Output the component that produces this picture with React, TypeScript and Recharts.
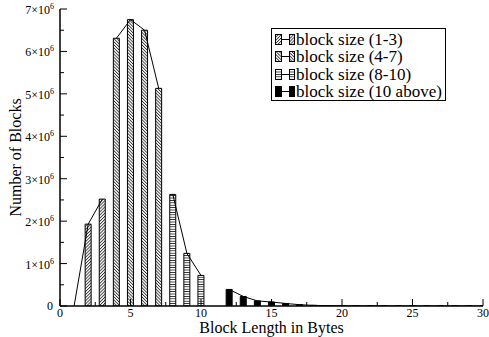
import React from 'react';
import { ComposedChart, Bar, Line, XAxis, YAxis, Cell, Legend } from 'recharts';

const smallLengths = [1, 2, 3];
const smallBlocks = [0, 1930000, 2520000];
const mediumLengths = [4, 5, 6, 7];
const mediumBlocks = [6310000, 6750000, 6500000, 5130000];
const largeLengths = [8, 9, 10];
const largeBlocks = [2630000, 1240000, 720000];
const hugeLengths = [12, 13, 14, 15, 16, 17, 18, 19, 20, 21, 22, 23, 24, 25, 26, 27, 28, 29, 30];
const hugeBlocks = [390000, 225000, 120000, 94000, 60000, 30000, 15000, 9000, 6000, 4000, 3000, 2000, 1500, 1000, 800, 600, 400, 300, 200];

const seriesNames = ['block size (1-3)', 'block size (4-7)', 'block size (8-10)', 'block size (10 above)'];
const xTicks = [0, 2.5, 5, 7.5, 10, 12.5, 15, 17.5, 20, 22.5, 25, 27.5, 30];
const yTicks = [0, 500000, 1000000, 1500000, 2000000, 2500000, 3000000, 3500000, 4000000, 4500000, 5000000, 5500000, 6000000, 6500000, 7000000];

const FONT = '"Liberation Serif", "Times New Roman", serif';

const groups = [
  { key: 'g1', lengths: smallLengths, blocks: smallBlocks, fill: 'url(#hatchUp)' },
  { key: 'g2', lengths: mediumLengths, blocks: mediumBlocks, fill: 'url(#hatchDown)' },
  { key: 'g3', lengths: largeLengths, blocks: largeBlocks, fill: 'url(#hatchFlat)' },
  { key: 'g4', lengths: hugeLengths, blocks: hugeBlocks, fill: '#000' },
];

const rows = groups
  .flatMap(g => g.lengths.map((len, i) => ({ len, blocks: g.blocks[i], fill: g.fill, [g.key]: g.blocks[i] })))
  .sort((a, b) => a.len - b.len);

const isMajorX = (v: number) => v % 5 === 0;
const isMajorY = (v: number) => v % 1000000 === 0;

const BottomTick = ({ x, y, payload }: any) => {
  const v = payload.value;
  const major = isMajorX(v);
  return (
    <g>
      <line x1={x} x2={x} y1={y} y2={y - (major ? 7 : 4)} stroke="#000" />
      {major && (
        <text x={x} y={y + 11} textAnchor="middle" fontSize={12} fontFamily={FONT} fill="#000">{v}</text>
      )}
    </g>
  );
};

const TopTick = ({ x, y, payload }: any) => (
  <line x1={x} x2={x} y1={y} y2={y + (isMajorX(payload.value) ? 7 : 4)} stroke="#000" />
);

const LeftTick = ({ x, y, payload }: any) => {
  const v = payload.value;
  const major = isMajorY(v);
  return (
    <g>
      <line x1={x} x2={x + (major ? 7 : 4)} y1={y} y2={y} stroke="#000" />
      {major && v === 0 && (
        <text x={x - 7} y={y + 4} textAnchor="end" fontSize={12} fontFamily={FONT} fill="#000">0</text>
      )}
      {major && v !== 0 && (
        <text x={x - 6} y={y + 5} textAnchor="end" fontSize={12} fontFamily={FONT} fill="#000">
          {`${v / 1000000}×10`}
          <tspan dy={-5} fontSize={8}>6</tspan>
        </text>
      )}
    </g>
  );
};

const RightTick = ({ x, y, payload }: any) => (
  <line x1={x} x2={x - (isMajorY(payload.value) ? 7 : 4)} y1={y} y2={y} stroke="#000" />
);

const swatchFills = groups.map(g => g.fill);

const renderLegend = () => (
  <div style={{ border: '1px solid #000', background: '#fff', width: 175, height: 73, boxSizing: 'border-box', padding: '2px 0 0 3px', fontFamily: FONT, fontSize: 17, lineHeight: '17px', color: '#000' }}>
    {seriesNames.map((name, i) => (
      <div key={name} style={{ display: 'flex', alignItems: 'center', height: 17.3, whiteSpace: 'nowrap' }}>
        <svg width={20} height={17} style={{ display: 'block', flexShrink: 0 }}>
          <rect x={0.5} y={3.5} width={6} height={10} fill={swatchFills[i]} stroke="#000" />
          <line x1={6.5} x2={14.5} y1={8.5} y2={8.5} stroke="#000" />
          <rect x={14.5} y={3.5} width={5} height={10} fill={swatchFills[i]} stroke="#000" />
        </svg>
        <span style={{ marginLeft: 1 }}>{name}</span>
      </div>
    ))}
  </div>
);

export default function App() {
  return (
    <div style={{ position: 'absolute', left: 0, top: 0, width: 489, height: 337, background: '#fff' }}>
      <ComposedChart width={489} height={337} data={rows} barSize={6} margin={{ top: 9, right: 6, bottom: 0, left: 0 }}>
        <defs>
          <pattern id="hatchUp" width={2.2} height={2.2} patternUnits="userSpaceOnUse" patternTransform="rotate(45)">
            <rect width={2.2} height={2.2} fill="#fff" />
            <line x1={0.5} y1={0} x2={0.5} y2={2.2} stroke="#000" strokeWidth={0.7} />
          </pattern>
          <pattern id="hatchDown" width={2.2} height={2.2} patternUnits="userSpaceOnUse" patternTransform="rotate(-45)">
            <rect width={2.2} height={2.2} fill="#fff" />
            <line x1={0.5} y1={0} x2={0.5} y2={2.2} stroke="#000" strokeWidth={0.7} />
          </pattern>
          <pattern id="hatchFlat" width={3} height={2.4} patternUnits="userSpaceOnUse">
            <rect width={3} height={2.4} fill="#fff" />
            <line x1={0} y1={1.2} x2={3} y2={1.2} stroke="#000" strokeWidth={0.8} />
          </pattern>
        </defs>
        <XAxis
          dataKey="len"
          type="number"
          domain={[0, 30]}
          ticks={xTicks}
          interval={0}
          allowDataOverflow
          height={31}
          tickSize={0}
          tickMargin={0}
          tickLine={false}
          tick={<BottomTick />}
          axisLine={{ stroke: '#000', strokeWidth: 1.5 }}
          label={{
            content: ({ viewBox }: any) => (
              <text x={viewBox.x + viewBox.width / 2} y={333} textAnchor="middle" fontSize={16} fontFamily={FONT} fill="#000">
                Block Length in Bytes
              </text>
            ),
          }}
        />
        <XAxis
          xAxisId="top"
          dataKey="len"
          type="number"
          orientation="top"
          domain={[0, 30]}
          ticks={xTicks}
          interval={0}
          allowDataOverflow
          height={0}
          tickSize={0}
          tickMargin={0}
          tickLine={false}
          tick={<TopTick />}
          axisLine={{ stroke: '#000', strokeWidth: 1.5 }}
        />
        <YAxis
          type="number"
          domain={[0, 7000000]}
          ticks={yTicks}
          interval={0}
          allowDataOverflow
          width={60}
          tickSize={0}
          tickMargin={0}
          tickLine={false}
          tick={<LeftTick />}
          axisLine={{ stroke: '#000', strokeWidth: 1.5 }}
          label={{
            content: ({ viewBox }: any) => {
              const cy = viewBox.y + viewBox.height / 2;
              return (
                <text x={21} y={cy} transform={`rotate(-90, 21, ${cy})`} textAnchor="middle" fontSize={16} fontFamily={FONT} fill="#000">
                  Number of Blocks
                </text>
              );
            },
          }}
        />
        <YAxis
          yAxisId="right"
          orientation="right"
          type="number"
          domain={[0, 7000000]}
          ticks={yTicks}
          interval={0}
          allowDataOverflow
          width={0}
          tickSize={0}
          tickMargin={0}
          tickLine={false}
          tick={<RightTick />}
          axisLine={{ stroke: '#000', strokeWidth: 1.5 }}
        />
        <Legend
          layout="vertical"
          align="center"
          verticalAlign="middle"
          content={renderLegend}
          wrapperStyle={{ top: 28, left: 271, width: 175 }}
        />
        <Bar dataKey="blocks" barSize={6} isAnimationActive={false} legendType="none">
          {rows.map((r, i) => (
            <Cell key={i} fill={r.fill} stroke="#000" strokeWidth={1} />
          ))}
        </Bar>
        {groups.map(g => (
          <Line
            key={g.key}
            dataKey={g.key}
            type="linear"
            stroke="#000"
            strokeWidth={1}
            dot={false}
            activeDot={false}
            connectNulls={false}
            isAnimationActive={false}
          />
        ))}
      </ComposedChart>
    </div>
  );
}
